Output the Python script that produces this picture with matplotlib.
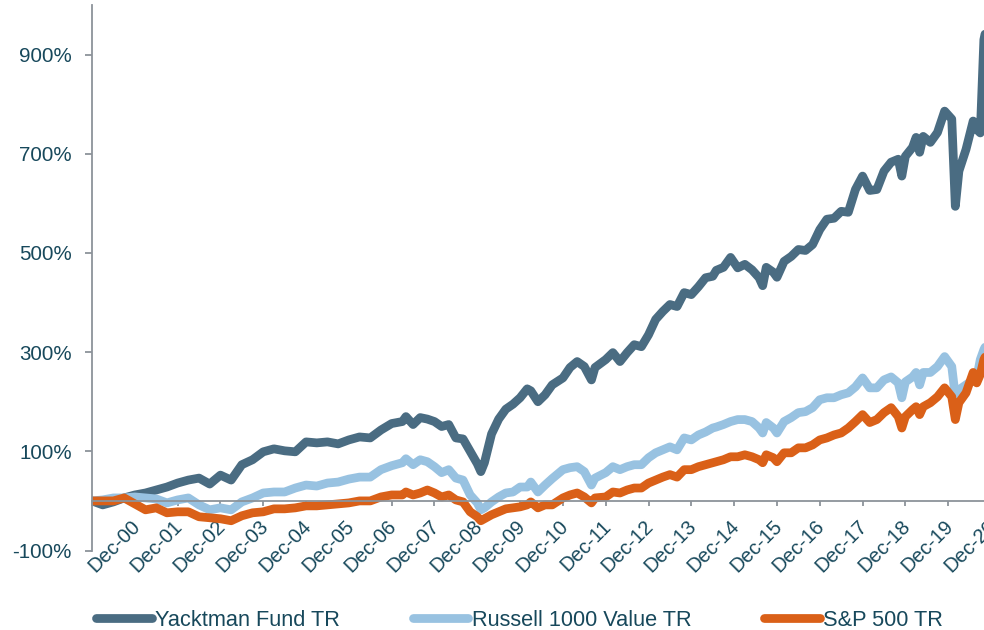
import matplotlib
matplotlib.use('Agg')
import matplotlib.pyplot as plt
import matplotlib.transforms as mtransforms

# months since Dec-99, values are cumulative total return in %
months = [0, 3, 6, 9, 12, 15, 18, 21, 24, 27, 30, 33, 36, 39, 42, 45, 48, 51, 54, 57,
          60, 63, 66, 69, 72, 75, 78, 81, 84, 87, 88, 90, 92, 94, 96, 98, 100, 102, 104, 106,
          108, 109, 110, 112, 114, 116, 118, 120, 122, 123, 125, 127, 129, 132, 134, 136, 138, 140, 141, 144,
          146, 148, 150, 152, 154, 156, 158, 160, 162, 164, 166, 168, 170, 172, 174, 175, 177, 179, 181, 183,
          185, 187, 188, 189, 191, 192, 194, 196, 198, 200, 202, 204, 206, 208, 210, 212, 214, 216, 218, 220,
          222, 224, 226, 227, 228, 230, 231, 232, 233, 235, 237, 239, 241, 242, 243, 245, 247, 248, 249, 250,
          251]

yacktman = [0, -8, -2, 6, 12, 16, 22, 28, 36, 42, 46, 34, 52, 42, 73, 83, 99, 105, 101, 99,
            119, 117, 119, 115, 123, 129, 127, 143, 156, 160, 170, 154, 168, 165, 160, 150, 154, 127, 125, 100,
            75, 59, 77, 135, 165, 185, 195, 208, 226, 222, 200, 214, 234, 248, 269, 281, 271, 244, 269, 285,
            299, 281, 299, 315, 311, 335, 366, 382, 396, 392, 420, 416, 432, 450, 453, 465, 471, 491, 470, 477,
            466, 450, 434, 471, 461, 451, 483, 493, 507, 505, 517, 547, 568, 570, 584, 582, 628, 655, 626, 628,
            665, 683, 689, 655, 695, 713, 733, 703, 735, 723, 743, 786, 770, 594, 665, 709, 766, 749, 742, 930,
            965]

russell = [0, 2, 6, 6, 8, 6, 4, -4, 2, 6, -8, -18, -14, -18, -2, 6, 16, 18, 18, 26,
           32, 30, 36, 38, 44, 48, 48, 63, 71, 77, 85, 73, 83, 79, 69, 57, 63, 46, 42, 12,
           -4, -18, -14, -2, 8, 16, 18, 28, 28, 38, 18, 32, 45, 63, 67, 69, 59, 32, 46, 57,
           69, 63, 69, 73, 73, 87, 97, 103, 109, 103, 127, 123, 133, 139, 147, 149, 154, 160, 164, 164,
           160, 147, 137, 158, 147, 137, 160, 168, 178, 180, 188, 204, 208, 208, 214, 218, 230, 248, 228, 228,
           244, 250, 238, 208, 240, 250, 259, 234, 259, 259, 271, 291, 271, 210, 224, 234, 244, 248, 285, 305,
           320]

sp500 = [0, 0, 0, 6, -6, -18, -14, -24, -22, -22, -32, -34, -36, -40, -30, -24, -22, -16, -16, -14,
         -10, -10, -8, -6, -4, 0, 0, 8, 12, 12, 18, 12, 16, 22, 16, 8, 12, 2, -2, -22,
         -32, -40, -36, -28, -22, -16, -14, -12, -8, -2, -14, -8, -8, 6, 12, 16, 8, -4, 6, 8,
         18, 16, 22, 26, 26, 36, 42, 48, 53, 48, 63, 63, 69, 73, 77, 79, 83, 89, 89, 93,
         89, 83, 77, 93, 87, 79, 97, 97, 107, 107, 113, 123, 127, 133, 137, 147, 160, 174, 158, 164,
         178, 188, 170, 147, 170, 184, 190, 174, 190, 198, 210, 228, 210, 164, 198, 218, 259, 238, 255, 285,
         300]

series_names = ['Yacktman Fund TR', 'Russell 1000 Value TR', 'S&P 500 TR']
series_colors = ['#4a6c82', '#98c2e1', '#da6018']

tick_months = list(range(0, 253, 12))
tick_labels = [''] + ['Dec-%02d' % yr for yr in range(0, 21)]
y_ticks = list(range(-100, 1000, 200))

txt = '#17485b'
grey = '#8c939a'

plt.rcParams['font.family'] = ['Liberation Sans', 'DejaVu Sans']

fig = plt.figure(figsize=(9.84, 6.3), dpi=100)
# plot area runs a little past the right edge of the picture, like the original
ax = fig.add_axes([92 / 984, 1 - 550.5 / 630, 899 / 984, 545.5 / 630])

for vals, name, col in zip([yacktman, russell, sp500], series_names, series_colors):
    ax.plot(months, vals, color=col, lw=6.3, label=name,
            solid_capstyle='round', solid_joinstyle='round')

ax.set_xlim(0, 252)
ax.set_ylim(-100, 1000)

for side in ['top', 'right']:
    ax.spines[side].set_visible(False)
ax.spines['bottom'].set_position(('data', 0))
for side in ['left', 'bottom']:
    ax.spines[side].set_color(grey)
    ax.spines[side].set_linewidth(1.3)

ax.set_yticks(y_ticks)
ax.set_yticklabels(['%d%%' % v for v in y_ticks])
ax.set_xticks(tick_months)
ax.set_xticklabels(tick_labels)

ax.tick_params(axis='y', length=5, width=1.3, color=grey, pad=9.5,
               labelsize=14.8, labelcolor=txt)
ax.tick_params(axis='x', length=3.6, width=1.3, color=grey, pad=12.5,
               labelsize=14.5, labelcolor=txt)

offset = mtransforms.ScaledTranslation(2 / 100, 0, fig.dpi_scale_trans)
for lbl in ax.get_xticklabels():
    lbl.set_rotation(45)
    lbl.set_ha('right')
    lbl.set_va('center')
    lbl.set_rotation_mode('anchor')
    lbl.set_transform(lbl.get_transform() + offset)

fig.legend(loc='center left', bbox_to_anchor=(96 / 984, 1 - 620 / 630), ncol=3,
           frameon=False, fontsize=15.7, handlelength=2.55, handletextpad=0.15,
           columnspacing=3.35, borderpad=0, borderaxespad=0, labelcolor=txt)

fig.savefig('out.png', dpi=100)
